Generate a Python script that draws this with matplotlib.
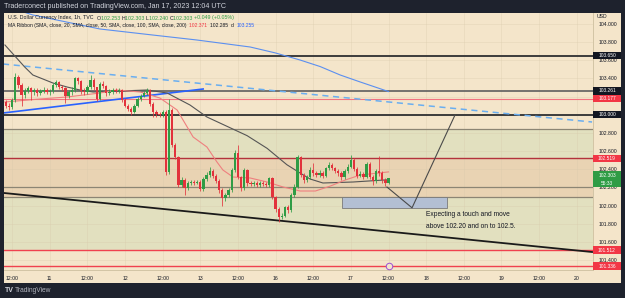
import matplotlib
matplotlib.use('Agg')
import matplotlib.pyplot as plt
import matplotlib.transforms as mtransforms
from matplotlib.patches import Rectangle
import numpy as np

plt.rcParams['font.family'] = ['Liberation Sans', 'DejaVu Sans']

# ---------------- data ----------------
first_hour = 10          # trading hours since Jan 10 00:00
first_open = 103.14
closes = [103.10, 103.08, 103.16, 103.42, 103.33, 103.22, 103.26, 103.29, 103.25, 103.27,
          103.24, 103.26, 103.27, 103.25, 103.26, 103.33, 103.36, 103.31, 103.29, 103.21,
          103.25, 103.27, 103.40, 103.37, 103.26, 103.25, 103.30, 103.38, 103.30, 103.17,
          103.34, 103.32, 103.24, 103.25, 103.27, 103.26, 103.27, 103.16, 103.10, 103.06,
          103.03, 103.10, 103.17, 103.21, 103.24, 103.27, 103.12, 103.03, 103.01, 103.00,
          103.03, 102.37, 103.05, 102.67, 102.54, 102.23, 102.28, 102.19, 102.25, 102.26,
          102.25, 102.26, 102.18, 102.29, 102.34, 102.38, 102.33, 102.27, 102.17, 102.08,
          102.12, 102.17, 102.39, 102.58, 102.31, 102.19, 102.39, 102.25, 102.24, 102.25,
          102.23, 102.25, 102.24, 102.23, 102.30, 102.09, 101.96, 101.87, 101.89, 101.98,
          101.95, 102.12, 102.21, 102.53, 102.34, 102.28, 102.31, 102.39, 102.36, 102.34,
          102.36, 102.33, 102.41, 102.45, 102.41, 102.38, 102.36, 102.31, 102.38, 102.43,
          102.50, 102.40, 102.33, 102.35, 102.32, 102.46, 102.32, 102.27, 102.38, 102.36,
          102.28, 102.253, 102.303]
highs = [103.16, 103.13, 103.18, 103.46, 103.44, 103.35, 103.29, 103.32, 103.31, 103.29,
         103.29, 103.28, 103.30, 103.29, 103.28, 103.35, 103.38, 103.37, 103.33, 103.30,
         103.27, 103.30, 103.42, 103.42, 103.38, 103.29, 103.33, 103.44, 103.40, 103.31,
         103.36, 103.37, 103.33, 103.28, 103.29, 103.29, 103.29, 103.28, 103.18, 103.12,
         103.08, 103.12, 103.19, 103.23, 103.26, 103.29, 103.28, 103.14, 103.05, 103.03,
         103.05, 103.05, 103.17, 103.07, 102.69, 102.55, 102.31, 102.30, 102.27, 102.28,
         102.28, 102.28, 102.28, 102.31, 102.37, 102.42, 102.40, 102.35, 102.29, 102.19,
         102.14, 102.19, 102.41, 102.61, 102.67, 102.33, 102.41, 102.40, 102.27, 102.27,
         102.27, 102.27, 102.27, 102.26, 102.32, 102.31, 102.11, 101.98, 101.92, 102.00,
         102.01, 102.14, 102.24, 102.56, 102.55, 102.36, 102.34, 102.42, 102.47, 102.38,
         102.39, 102.38, 102.43, 102.48, 102.47, 102.43, 102.40, 102.38, 102.40, 102.46,
         102.56, 102.52, 102.42, 102.38, 102.37, 102.48, 102.48, 102.34, 102.40, 102.55,
         102.38, 102.30, 102.303]
lows = [103.07, 103.05, 103.06, 103.14, 103.29, 103.10, 103.18, 103.24, 103.16, 103.22,
        103.21, 103.22, 103.24, 103.23, 103.22, 103.24, 103.31, 103.28, 103.26, 103.13,
        103.18, 103.22, 103.25, 103.34, 103.23, 103.22, 103.23, 103.28, 103.27, 103.15,
        103.16, 103.29, 103.21, 103.22, 103.23, 103.24, 103.24, 103.14, 103.08, 103.04,
        103.00, 103.02, 103.08, 103.15, 103.19, 103.22, 103.10, 102.97, 102.98, 102.97,
        102.98, 102.34, 102.35, 102.64, 102.51, 102.20, 102.21, 102.12, 102.17, 102.23,
        102.23, 102.24, 102.16, 102.16, 102.27, 102.32, 102.30, 102.25, 102.14, 102.00,
        102.05, 102.10, 102.15, 102.37, 102.29, 102.16, 102.17, 102.22, 102.22, 102.22,
        102.21, 102.21, 102.22, 102.21, 102.21, 102.07, 101.93, 101.82, 101.85, 101.87,
        101.92, 101.93, 102.10, 102.19, 102.31, 102.25, 102.26, 102.29, 102.33, 102.31,
        102.32, 102.30, 102.31, 102.39, 102.39, 102.36, 102.33, 102.28, 102.29, 102.36,
        102.41, 102.38, 102.30, 102.31, 102.29, 102.30, 102.29, 102.23, 102.25, 102.33,
        102.25, 102.22, 102.240]

sma20_h = [9.7, 20.9, 29.5, 40.0, 45.4, 52.8, 59.1, 64.6, 69.7, 74.1, 77.3, 79.2, 82.4,
           87.9, 93.3, 98.4, 103.8, 108.7, 113.5, 118.2, 123.0, 132.0]
sma20_v = [103.140, 103.173, 103.195, 103.239, 103.272, 103.250, 103.184, 103.052, 102.755,
           102.645, 102.480, 102.392, 102.315, 102.304, 102.260, 102.205, 102.161, 102.161,
           102.216, 102.282, 102.337, 102.371]
sma50_h = [9.7, 16.0, 18.6, 25.0, 29.5, 33.6, 37.8, 46.4, 55.0, 61.4, 68.7, 74.1, 86.9,
           93.3, 99.6, 103.8, 107.0, 111.1, 120.7, 132.0]
sma50_v = [103.767, 103.525, 103.437, 103.349, 103.305, 103.272, 103.250, 103.261, 103.272,
           103.239, 103.107, 102.975, 102.770, 102.630, 102.450, 102.359, 102.293, 102.249,
           102.260, 102.285]
sma200_h = [9.4, 18.6, 40.0, 56.0, 70.9, 87.9, 95.9, 103.8, 110.2, 116.6, 123.0, 132.0]
sma200_v = [104.20, 104.097, 103.943, 103.880, 103.822, 103.745, 103.680, 103.602, 103.530,
            103.437, 103.360, 103.255]

support_h = [9.1, 72.9]
support_p = [103.019, 103.283]
dashed_h = [9.1, 196.9]
dashed_p = [103.558, 102.920]
lower_h = [9.4, 196.9]
lower_p = [102.139, 101.490]
path_h = [131.5, 139.5, 153.2]
path_p = [102.205, 101.976, 102.997]
box_h = [117.2, 150.7]
box_p = [101.976, 102.095]

level_prices = [103.650, 103.261, 103.177, 103.000, 102.840, 102.519, 102.205, 102.095, 101.512, 101.336]
level_colors = ['#3c3c3c', '#5e5e5e', '#f27380', '#3c3c3c', '#8c8574', '#b3323c', '#8c8574', '#8c8574', '#f0414f', '#f0414f']
level_widths = [1.4, 1.2, 0.8, 1.4, 0.9, 1.0, 0.9, 0.9, 1.0, 1.0]

zone_green = [101.512, 102.840]
zone_tan = [102.095, 102.519]

tag_prices = [103.650, 103.261, 103.177, 103.000, 102.519, 101.512, 101.336]
tag_colors = ['#131722', '#131722', '#f23645', '#131722', '#f23645', '#f23645', '#f23645']
last_price = 102.303
last_timer = '55:33'

price_ticks = [104.0, 103.8, 103.6, 103.4, 103.2, 103.0, 102.8, 102.6, 102.4, 102.2, 102.0, 101.8, 101.6, 101.4]
price_tick_labels = ['104.000', '103.800', '103.600', '103.400', '', '', '102.800', '102.600',
                     '102.400', '102.200', '102.000', '101.800', '101.600', '101.400']
time_ticks = [12, 24, 36, 48, 60, 72, 84, 96, 108, 120, 132, 144, 156, 168, 180, 192]
time_labels = ['12:00', '11', '12:00', '12', '12:00', '13', '12:00', '16', '12:00', '17',
               '12:00', '18', '12:00', '19', '12:00', '20']
event_h = [132]
event_p = [101.336]

# ---------------- figure ----------------
W, H = 625, 298
DARK = '#1e222d'
BEIGE = '#f4e5ca'
TXT = '#131722'
UP = '#2f9c45'
DN = '#e2323c'

fig = plt.figure(figsize=(W / 100, H / 100), dpi=100, facecolor=DARK)

def fx(px):
    return px / W

def fy(py):
    return 1 - py / H

fig.patches.append(Rectangle((fx(4), fy(283)), fx(621) - fx(4), fy(13) - fy(283),
                             transform=fig.transFigure, facecolor=BEIGE, edgecolor='none', zorder=-5))

ax = fig.add_axes([fx(4), fy(270), fx(593) - fx(4), fy(13) - fy(270)])
ax.set_zorder(1)
ax.set_facecolor(BEIGE)
ax.set_xlim(9.4, 197.2)
ax.set_ylim(101.292, 104.119)

ax.axhspan(zone_green[0], zone_green[1], color='#e2e0bf', zorder=0.2, lw=0)
ax.axhspan(zone_tan[0], zone_tan[1], color='#e9d3b3', zorder=0.3, lw=0)

ax.set_axisbelow(True)
ax.grid(True, color='#d8c9ab', lw=0.5, alpha=0.45)

for p, c, w in zip(level_prices, level_colors, level_widths):
    ax.axhline(p, color=c, lw=w, zorder=1)

ax.plot(sma200_h, sma200_v, color='#5b8ff0', lw=0.8, zorder=2)
ax.plot(dashed_h, dashed_p, color='#6aaef0', lw=1.1, ls=(0, (4, 3)), zorder=2)
ax.plot(support_h, support_p, color='#2962ff', lw=1.2, zorder=2)
ax.plot(lower_h, lower_p, color='#1a1a1a', lw=1.3, zorder=2)
ax.plot(sma50_h, sma50_v, color='#555555', lw=0.8, zorder=3)
ax.plot(sma20_h, sma20_v, color='#ef7f7f', lw=0.8, zorder=3)

ax.add_patch(Rectangle((box_h[0], box_p[0]), box_h[1] - box_h[0], box_p[1] - box_p[0],
                       facecolor='#b3bfd3', edgecolor='#7a7a7a', lw=0.6, zorder=2))
ax.plot(path_h, path_p, color='#4a4a4a', lw=0.8, zorder=3)

c = np.array(closes)
o = np.array([first_open] + closes[:-1])
hi = np.array(highs)
lo = np.array(lows)
x = first_hour + np.arange(len(c))
cols = np.where(c >= o, UP, DN)
ax.vlines(x, lo, hi, colors=cols, lw=0.55, zorder=4)
ax.bar(x, np.maximum(np.abs(c - o), 0.008), bottom=np.minimum(o, c), width=0.74,
       color=cols, lw=0, zorder=5)

ax.scatter(event_h, event_p, s=22, facecolor='#f4e5ca', edgecolor='#9c4fd6', lw=0.7, zorder=6, clip_on=False)

ax.text(143.9, 101.94, 'Expecting a touch and move\nabove 102.20 and on to 102.5.',
        fontsize=4.8, color=TXT, va='top', ha='left', linespacing=1.9, zorder=6)

# axes styling
for s in ['left', 'top']:
    ax.spines[s].set_visible(False)
for s in ['right', 'bottom']:
    ax.spines[s].set_color('#cdbf9f')
    ax.spines[s].set_linewidth(0.6)
ax.yaxis.tick_right()
ax.set_yticks(price_ticks)
ax.set_yticklabels(price_tick_labels)
ax.set_xticks(time_ticks)
ax.set_xticklabels(time_labels)
ax.tick_params(axis='y', length=0, pad=4.2, labelsize=3.7, labelcolor=TXT)
ax.tick_params(axis='x', length=0, pad=4.0, labelsize=3.7, labelcolor=TXT)

# price tags
tr = mtransforms.blended_transform_factory(ax.transAxes, ax.transData)
tag_w = 28 / 589
tag_h = 7.3 / 90.9
for p, col in zip(tag_prices, tag_colors):
    ax.add_patch(Rectangle((1.0, p - tag_h / 2), tag_w, tag_h, transform=tr, facecolor=col,
                           edgecolor='none', clip_on=False, zorder=10))
    ax.text(1.0 + tag_w / 2, p, f'{p:.3f}', transform=tr, ha='center', va='center',
            fontsize=3.5, color='white', clip_on=False, zorder=11)
lh = 16 / 90.9
ax.add_patch(Rectangle((1.0, last_price - lh / 2 - 0.01), tag_w, lh, transform=tr, facecolor='#2f9c45',
                       edgecolor='none', clip_on=False, zorder=10))
ax.text(1.0 + tag_w / 2, last_price + 0.025, f'{last_price:.3f}', transform=tr, ha='center', va='center',
        fontsize=3.5, color='white', clip_on=False, zorder=11)
ax.text(1.0 + tag_w / 2, last_price - 0.055, last_timer, transform=tr, ha='center', va='center',
        fontsize=3.5, color='white', clip_on=False, zorder=11)

fig.text(fx(597), fy(17), 'USD', fontsize=3.7, color=TXT, va='center', ha='left')

# header texts
fig.text(fx(4), fy(6.5), 'Traderconect published on TradingView.com, Jan 17, 2023 12:04 UTC',
         fontsize=5.1, color='#d1d4dc', va='center', ha='left')

def chain(x0, y0, parts, size):
    t = fig.text(fx(x0), fy(y0), parts[0][0], fontsize=size, color=parts[0][1], va='center',
                 ha='left', zorder=20)
    for s, col in parts[1:]:
        t = ax.annotate(s, xy=(1, 0.5), xycoords=t, va='center', ha='left',
                        fontsize=size, color=col, annotation_clip=False, zorder=20)
    return t

GRN = '#2f9c45'
chain(8, 18, [('U.S. Dollar Currency Index, 1h, TVC  ', TXT), ('O', TXT), ('102.253 ', GRN),
              ('H', TXT), ('102.303 ', GRN), ('L', TXT), ('102.240 ', GRN), ('C', TXT),
              ('102.303 ', GRN), ('+0.049 (+0.05%)', GRN)], 3.8)
chain(8, 25.5, [('MA Ribbon (SMA, close, 20, SMA, close, 50, SMA, close, 100, SMA, close, 200)  ', TXT),
                ('102.371  ', '#f23645'), ('102.285  ', TXT), ('d  ', TXT), ('103.255', '#2962ff')], 3.65)

# footer logo
fig.text(fx(5), fy(291), 'TV', fontsize=5.0, color='#d1d4dc', fontweight='bold', va='center', ha='left')
fig.text(fx(15), fy(291), 'TradingView', fontsize=4.8, color='#b2b5be', va='center', ha='left')

fig.savefig('out.png', dpi=100, facecolor=DARK)
